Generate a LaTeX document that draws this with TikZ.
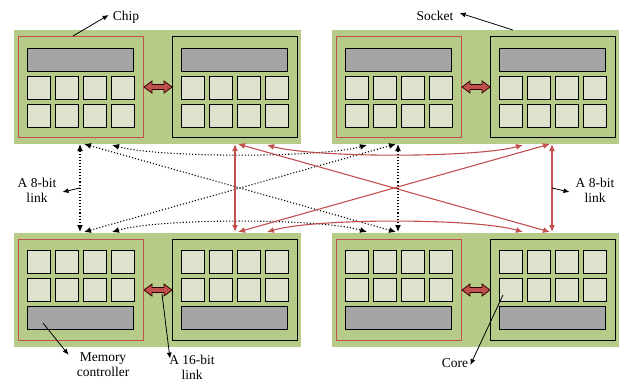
\documentclass[tikz,border=0pt]{standalone}
\usepackage{fontspec}
\setmainfont{Liberation Serif}
\usetikzlibrary{arrows.meta}
\definecolor{sockgreen}{HTML}{B7CB88}
\definecolor{corefill}{HTML}{DEE2CD}
\definecolor{barfill}{HTML}{A5A5A5}
\definecolor{linkred}{HTML}{C0504D}
\tikzset{
 sock/.style={fill=sockgreen},
 redchip/.style={draw=linkred, line width=0.9pt},
 blkchip/.style={draw=black, line width=1pt},
 corebox/.style={draw=black, fill=corefill, line width=1pt},
 barbox/.style={draw=black, fill=barfill, line width=1pt},
 fatarrow/.style={fill=linkred, draw=black!80!red, line width=0.8pt, line join=miter},
 dotlink/.style={black, dotted, line width=1.1pt, {Latex[length=7pt,width=6pt]}-{Latex[length=7pt,width=6pt]}},
 redlink/.style={linkred, line width=1.1pt, {Latex[length=7pt,width=6pt]}-{Latex[length=7pt,width=6pt]}},
 callout/.style={black, line width=0.8pt, -{Latex[length=6pt,width=5pt]}},
 lbl/.style={font=\fontsize{13.5}{15}\selectfont, align=center, inner sep=0pt},
}
\newcommand\drawsocket[5]{%
\begin{scope}[shift={(#1,#2)}]
\fill[sock] (0,0) rectangle (287,114);
\draw[redchip] (4,6) rectangle (129,107);
\draw[blkchip] (158,6) rectangle (283,107);
\foreach \cx in {4,158}{
  \draw[barbox] (\cx+9,#3) rectangle ++(106,23);
  \foreach \k in {0,...,3}{
    \draw[corebox] (\cx+9+28*\k,#4) rectangle ++(23,23);
    \draw[corebox] (\cx+9+28*\k,#5) rectangle ++(23,23);
  }
}
\draw[fatarrow] (130,57) -- (138,51) -- (138,54.5) -- (150,54.5) -- (150,51) -- (158,57) -- (150,63) -- (150,59.5) -- (138,59.5) -- (138,63) -- cycle;
\end{scope}}
\begin{document}
\begin{tikzpicture}[x=1pt,y=-1pt]
\useasboundingbox (0,0) rectangle (624,383);
\drawsocket{14}{30}{18}{46}{74}
\drawsocket{332}{30}{18}{46}{74}
\drawsocket{14}{233}{73}{17}{45}
\drawsocket{332}{233}{73}{17}{45}

% connector end points
\coordinate (dTL) at (80,144);
\coordinate (dBL) at (80,232);
\coordinate (dTR) at (398,144);
\coordinate (dBR) at (398,232);
\coordinate (dxTL) at (84,144);
\coordinate (dxBL) at (84,232);
\coordinate (dxTR) at (396,144);
\coordinate (dxBR) at (396,232);
\coordinate (dcTa) at (112,145);
\coordinate (dcTb) at (367,145);
\coordinate (dcBa) at (112,232);
\coordinate (dcBb) at (367,232);
\coordinate (rTL) at (235,144);
\coordinate (rBL) at (235,232);
\coordinate (rTR) at (552,144);
\coordinate (rBR) at (552,232);
\coordinate (rxTL) at (238,144);
\coordinate (rxBL) at (238,232);
\coordinate (rxTR) at (550,144);
\coordinate (rxBR) at (550,232);
\coordinate (rcTa) at (267,145);
\coordinate (rcTb) at (523,145);
\coordinate (rcBa) at (267,232);
\coordinate (rcBb) at (523,232);

% dotted links
\draw[dotlink] (dTL) -- (dBL);
\draw[dotlink] (dTR) -- (dBR);
\draw[dotlink] (dxTL) -- (dxBR);
\draw[dotlink] (dxTR) -- (dxBL);
\draw[dotlink] (dcTa) .. controls (160,158) and (320,158) .. (dcTb);
\draw[dotlink] (dcBa) .. controls (160,218) and (320,218) .. (dcBb);

% red links
\draw[redlink] (rTL) -- (rBL);
\draw[redlink] (rTR) -- (rBR);
\draw[redlink] (rxTL) -- (rxBR);
\draw[redlink] (rxTR) -- (rxBL);
\draw[redlink] (rcTa) .. controls (315,158) and (475,158) .. (rcTb);
\draw[redlink] (rcBa) .. controls (315,218) and (475,218) .. (rcBb);

% labels
\node[lbl] (chip) at (126,17) {Chip};
\node[lbl] (socket) at (435,16) {Socket};
\node[lbl] (linkL) at (37,190) {A 8-bit\\link};
\node[lbl] (linkR) at (595,190) {A 8-bit\\link};
\node[lbl] (memctl) at (103,365) {Memory\\controller};
\node[lbl] (link16) at (192,367) {A 16-bit\\link};
\node[lbl] (core) at (455,363) {Core};

\coordinate (chipsrc) at (73,36);
\coordinate (socksrc) at (513,30);
\coordinate (linkLsrc) at (80,188);
\coordinate (linkRsrc) at (552,188);
\coordinate (memsrc) at (43,323);
\coordinate (l16src) at (162,294);
\coordinate (coresrc) at (503,295);

\draw[callout] (chipsrc) -- ([xshift=-4pt,yshift=2pt]chip.west);
\draw[callout] (socksrc) -- ([xshift=6pt,yshift=3pt]socket.east);
\draw[callout] (linkLsrc) -- ([xshift=6pt,yshift=-2pt]linkL.east);
\draw[callout] (linkRsrc) -- ([xshift=-6pt,yshift=-2pt]linkR.west);
\draw[callout] (memsrc) -- ([xshift=-8pt,yshift=-2pt]memctl.north west);
\draw[callout] (l16src) -- ([xshift=-22pt,yshift=-4pt]link16.north);
\draw[callout] (coresrc) -- ([xshift=2pt,yshift=-2pt]core.east);
\end{tikzpicture}
\end{document}
